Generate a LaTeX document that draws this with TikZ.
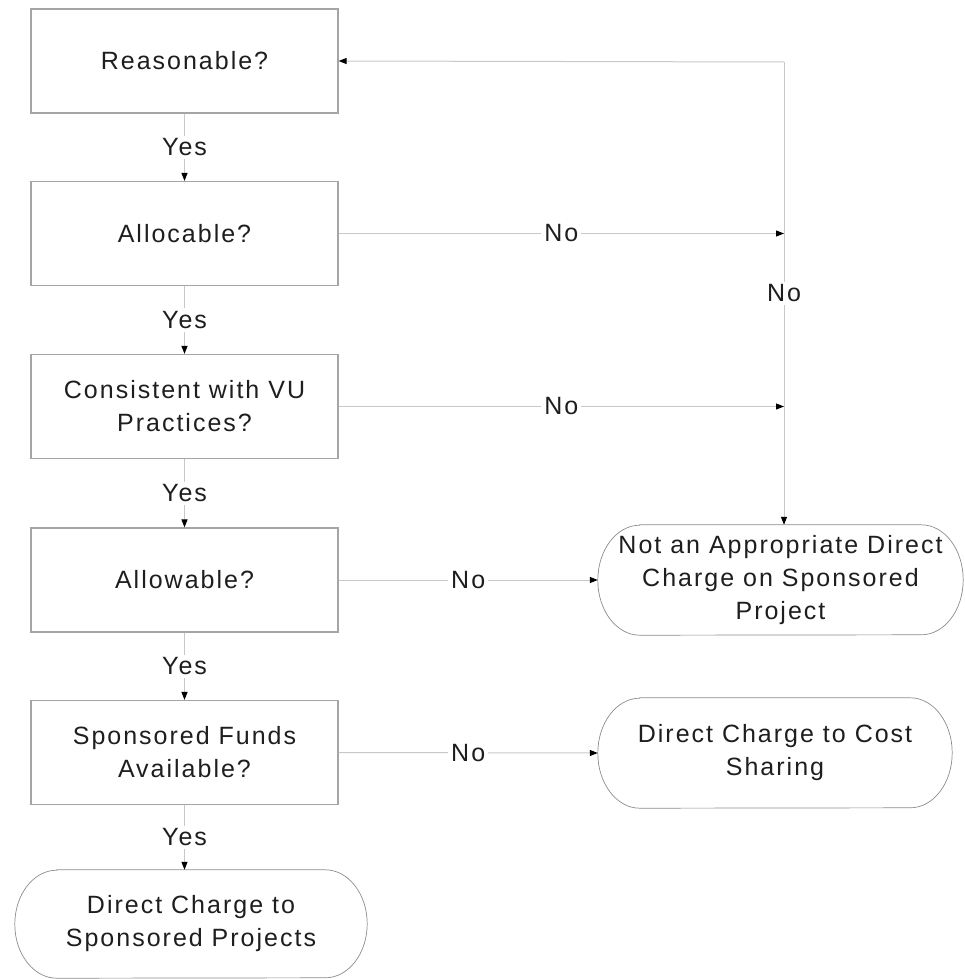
\documentclass[tikz,border=0pt]{standalone}
\usepackage{fontspec}
\setmainfont{Liberation Sans}[LetterSpace=8]
\usetikzlibrary{arrows.meta}
\definecolor{boxgray}{RGB}{165,165,165}
\definecolor{linegray}{RGB}{200,200,200}
\definecolor{termgray}{RGB}{140,140,140}
\definecolor{textc}{RGB}{30,30,30}
\newcommand\termpath[2]{%
  \draw[termline] ([xshift=42pt]#1.north west) -- ([xshift=-42pt]#1.north east)
    arc[start angle=90,end angle=-90,x radius=42pt,y radius=#2]
    -- ([xshift=42pt]#1.south west)
    arc[start angle=270,end angle=90,x radius=42pt,y radius=#2] -- cycle;}
\begin{document}
\begin{tikzpicture}[x=1pt,y=-1pt,
  txt/.style={text=textc, font=\fontsize{25}{33}\selectfont, align=center},
  box/.style={txt, draw=boxgray, line width=1.2pt, minimum width=307pt, minimum height=104pt, inner sep=0pt},
  term/.style={txt, inner sep=0pt, minimum height=110pt},
  termline/.style={draw=termgray, line width=0.7pt},
  conn/.style={draw=linegray, line width=1pt, -{Triangle[length=8pt,width=6pt,color=black]}},
  plain/.style={draw=linegray, line width=1pt},
  lab/.style={txt, fill=white, inner sep=3pt}
]
\useasboundingbox (0,0) rectangle (965,979);

\node[box] (b1) at (184.5,61) {Reasonable?};
\node[box] (b2) at (184.5,233.5) {Allocable?};
\node[box] (b3) at (184.5,406.5) {Consistent with VU\\Practices?};
\node[box] (b4) at (184.5,580) {Allowable?};
\node[box] (b5) at (184.5,752.5) {Sponsored Funds\\Available?};

\node[term, minimum width=365pt] (t1) at (780.5,580) {Not an Appropriate Direct\\Charge on Sponsored\\Project};
\node[term, minimum width=354pt] (t2) at (775,753) {Direct Charge to Cost\\Sharing};
\node[term, minimum width=352pt, minimum height=108pt] (t3) at (191,924) {Direct Charge to\\Sponsored Projects};
\termpath{t1}{55pt}
\termpath{t2}{55pt}
\termpath{t3}{54pt}

\coordinate (c) at (784,62);

\draw[conn] (b1.south) -- node[lab]{Yes} (b2.north);
\draw[conn] (b2.south) -- node[lab]{Yes} (b3.north);
\draw[conn] (b3.south) -- node[lab]{Yes} (b4.north);
\draw[conn] (b4.south) -- node[lab]{Yes} (b5.north);
\draw[conn] (b5.south) -- node[lab]{Yes} (b5.south |- t3.north);

\draw[conn] (c) -- (b1.east);
\draw[conn] (c) -- node[lab]{No} (c |- t1.north);
\draw[conn] (b2.east) -- node[lab]{No} (c |- b2.east);
\draw[conn] (b3.east) -- node[lab]{No} (c |- b3.east);
\draw[conn] (b4.east) -- node[lab]{No} (t1.west);
\draw[conn] (b5.east) -- node[lab]{No} (t2.west);
\end{tikzpicture}
\end{document}
